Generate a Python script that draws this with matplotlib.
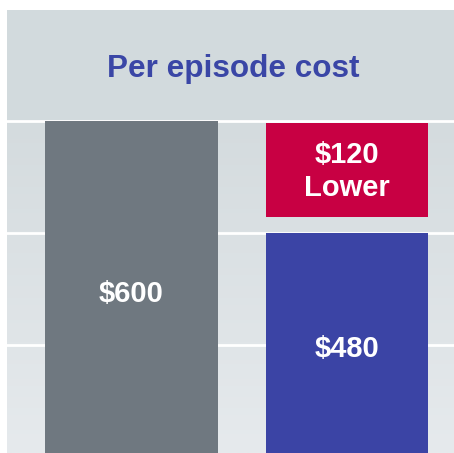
import numpy as np
import matplotlib.pyplot as plt

# chart values
labels = ["Current", "New"]
current_cost = 600
new_cost = 480
saving = current_cost - new_cost
grid_values = [360, 480, 600]
title = "Per episode cost"

gray = "#6f7880"
red = "#c80043"
blue = "#3b44a5"
title_color = "#3a46a6"

fig = plt.figure(figsize=(4.54, 4.53), dpi=100)
fig.patch.set_facecolor("white")
ax = fig.add_axes([7 / 454, 0, 1 - 7 / 454, 443 / 453])

ymin, ymax = 244, 719
xmin, xmax = -0.578, 1.497
ax.set_xlim(xmin, xmax)
ax.set_ylim(ymin, ymax)

# background gradient for plot area, flat band for header
grad = np.linspace(0, 1, 256).reshape(-1, 1)
top_c = np.array([0xd4, 0xdb, 0xde]) / 255
bot_c = np.array([0xe6, 0xea, 0xed]) / 255
img = top_c + (bot_c - top_c) * grad[..., None]
ax.imshow(img, extent=[xmin, xmax, ymin, 600], aspect="auto", zorder=0)
ax.axhspan(600, ymax, color="#d2dadd", zorder=0, lw=0)

for g in grid_values:
    ax.axhline(g, color="white", lw=2, zorder=1)

ax.bar(0, current_cost - ymin, bottom=ymin, width=0.80, color=gray, zorder=2)
ax.bar(1, new_cost - ymin, bottom=ymin, width=0.75, color=blue, zorder=2)
gap = 17
ax.bar(1, saving - gap - 2, bottom=new_cost + gap, width=0.75, color=red, zorder=2)

txt = dict(color="white", fontsize=21, fontweight="bold", ha="center",
           va="center", family="Liberation Sans", zorder=3)
ax.text(0, 415, f"${current_cost}", **txt)
ax.text(1, 355, f"${new_cost}", **txt)
ax.text(1, 546, f"${saving}\nLower", linespacing=1.25, **txt)

ax.text(0.474, 656, title, color=title_color, fontsize=22.7, fontweight="bold",
        ha="center", va="center", family="Liberation Sans", zorder=3)

ax.axis("off")
fig.savefig("out.png", dpi=100)
